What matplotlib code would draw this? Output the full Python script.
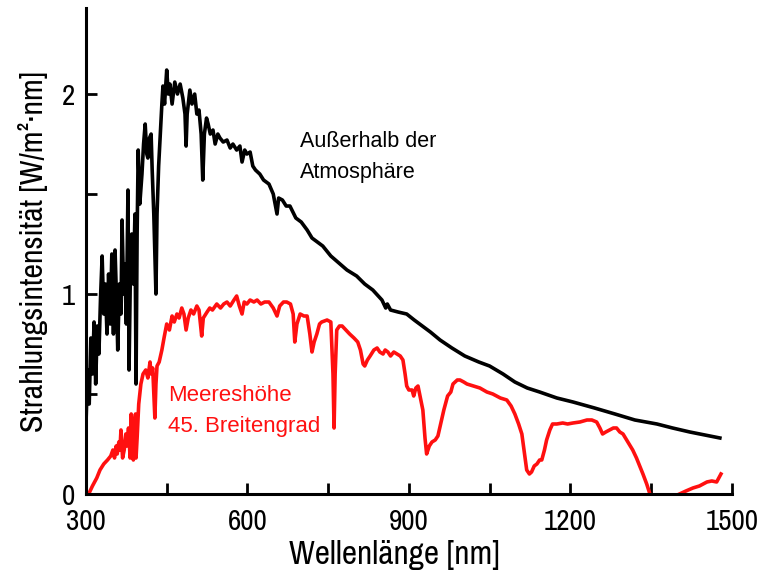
import numpy as np
import matplotlib
matplotlib.use("Agg")
import matplotlib.pyplot as plt
from matplotlib.ticker import MultipleLocator

# extraterrestrial spectrum (nm, W/m^2/nm)
wl_space = [300, 303, 306, 309, 312, 315, 318, 321, 324, 327, 330, 333, 336, 339, 342,
            345, 348, 351, 354, 357, 359, 362, 365, 367, 370, 372, 375, 378, 380, 383,
            385, 388, 391, 393, 395, 397, 400, 404, 407, 410, 413, 415, 418, 421, 423,
            426, 428, 430, 432, 435, 438, 441, 443, 446, 450, 453, 456, 460, 465, 470,
            475, 480, 484, 486, 488, 493, 497, 502, 506, 510, 514, 517, 520, 524, 527,
            531, 536, 540, 545, 549, 555, 562, 568, 573, 580, 586, 590, 595, 599, 605,
            610, 615, 623, 630, 640, 648, 655, 658, 665, 672, 679, 690, 700, 711, 720,
            730, 740, 755, 772, 785, 803, 818, 833, 850, 857, 860, 866, 880, 896, 910,
            920, 940, 958, 980, 1004, 1030, 1050, 1075, 1097, 1120, 1143, 1175, 1205,
            1245, 1283, 1320, 1361, 1390, 1422, 1450, 1478]
irr_space = [0.35, 0.62, 0.45, 0.78, 0.60, 0.86, 0.55, 0.84, 0.70, 0.98, 1.19, 0.90, 1.05,
             0.80, 1.10, 0.85, 1.20, 0.80, 1.22, 0.95, 0.72, 1.05, 0.90, 1.37, 1.00, 1.15,
             0.85, 1.52, 0.62, 1.20, 1.30, 1.05, 1.40, 0.55, 1.30, 1.72, 1.45, 1.60, 1.75,
             1.85, 1.70, 1.68, 1.78, 1.80, 1.62, 1.40, 1.20, 1.00, 1.40, 1.64, 1.80, 1.95,
             2.04, 1.95, 2.12, 2.00, 2.05, 1.95, 2.06, 2.00, 2.05, 1.98, 1.90, 1.74, 1.90,
             2.02, 1.95, 2.00, 1.90, 1.92, 1.80, 1.57, 1.80, 1.88, 1.85, 1.80, 1.82, 1.75,
             1.80, 1.78, 1.76, 1.77, 1.73, 1.75, 1.72, 1.74, 1.66, 1.72, 1.70, 1.71, 1.64,
             1.62, 1.60, 1.57, 1.55, 1.50, 1.40, 1.48, 1.47, 1.44, 1.44, 1.38, 1.36, 1.32,
             1.28, 1.26, 1.24, 1.19, 1.15, 1.12, 1.09, 1.05, 1.02, 0.97, 0.93, 0.95, 0.92,
             0.91, 0.90, 0.87, 0.85, 0.81, 0.77, 0.73, 0.69, 0.66, 0.64, 0.60, 0.56, 0.53,
             0.51, 0.48, 0.46, 0.43, 0.40, 0.37, 0.35, 0.33, 0.31, 0.295, 0.28]

# sea level, 45th parallel (nan = fully absorbed band)
wl_sea = [305, 312, 320, 326, 333, 340, 346, 350, 353, 356, 358, 361, 363, 365, 368, 371,
          374, 376, 379, 382, 384, 386, 388, 390, 392, 393, 395, 398, 402, 406, 411, 415,
          419, 421, 424, 428, 430, 432, 436, 441, 445, 450, 455, 460, 464, 469, 473, 478,
          482, 486, 490, 495, 500, 506, 510, 515, 518, 525, 530, 535, 543, 550, 556, 562,
          568, 575, 580, 585, 590, 594, 599, 605, 612, 618, 625, 632, 640, 648, 655, 660,
          667, 673, 680, 685, 688, 692, 698, 705, 711, 716, 720, 724, 729, 734, 738, 748,
          755, 759, 761, 763, 766, 771, 776, 783, 790, 798, 805, 810, 815, 818, 823, 828,
          835, 841, 846, 852, 856, 861, 866, 872, 878, 884, 889, 893, 896, 900, 906, 909,
          913, 917, 920, 926, 930, 933, 938, 943, 949, 954, 960, 965, 972, 978, 982, 990,
          995, 1002, 1008, 1020, 1032, 1045, 1056, 1070, 1082, 1090, 1097, 1104, 1110,
          1115, 1119, 1124, 1128, 1133, 1138, 1143, 1147, 1152, 1156, 1162, 1167, 1175,
          1186, 1195, 1205, 1218, 1231, 1240, 1249, 1255, 1260, 1266, 1273, 1280, 1286,
          1292, 1298, 1307, 1316, 1323, 1329, 1335, 1342, 1348, 1375, 1403, 1415, 1428,
          1440, 1454, 1463, 1472, 1476, 1480]
irr_sea = [0.0, 0.04, 0.08, 0.12, 0.15, 0.17, 0.19, 0.22, 0.18, 0.24, 0.20, 0.26, 0.22,
           0.32, 0.18, 0.22, 0.30, 0.24, 0.33, 0.18, 0.40, 0.20, 0.17, 0.35, 0.40, 0.18,
           0.28, 0.45, 0.55, 0.60, 0.62, 0.58, 0.66, 0.60, 0.63, 0.38, 0.55, 0.64, 0.66,
           0.72, 0.78, 0.85, 0.82, 0.89, 0.86, 0.90, 0.88, 0.93, 0.90, 0.82, 0.88, 0.92,
           0.90, 0.94, 0.92, 0.79, 0.88, 0.91, 0.93, 0.92, 0.95, 0.93, 0.95, 0.96, 0.94,
           0.97, 0.99, 0.94, 0.90, 0.96, 0.95, 0.97, 0.96, 0.97, 0.95, 0.96, 0.96, 0.93,
           0.89, 0.94, 0.96, 0.96, 0.95, 0.90, 0.76, 0.85, 0.90, 0.89, 0.89, 0.80, 0.71,
           0.76, 0.80, 0.85, 0.86, 0.87, 0.86, 0.60, 0.33, 0.60, 0.82, 0.84, 0.84, 0.82,
           0.80, 0.78, 0.76, 0.72, 0.65, 0.64, 0.67, 0.69, 0.72, 0.73, 0.71, 0.70, 0.72,
           0.71, 0.69, 0.71, 0.70, 0.69, 0.67, 0.60, 0.54, 0.52, 0.52, 0.49, 0.53, 0.54,
           0.50, 0.42, 0.28, 0.20, 0.24, 0.26, 0.27, 0.29, 0.36, 0.42, 0.49, 0.51, 0.55,
           0.57, 0.57, 0.56, 0.55, 0.54, 0.53, 0.51, 0.50, 0.48, 0.47, 0.44, 0.40, 0.35,
           0.30, 0.20, 0.12, 0.10, 0.11, 0.14, 0.15, 0.17, 0.17, 0.22, 0.27, 0.32, 0.35,
           0.35, 0.355, 0.35, 0.355, 0.36, 0.37, 0.37, 0.36, 0.33, 0.30, 0.31, 0.32, 0.33,
           0.33, 0.31, 0.30, 0.26, 0.22, 0.18, 0.14, 0.10, 0.05, 0.0, np.nan, 0.0, 0.015,
           0.03, 0.04, 0.06, 0.065, 0.06, 0.08, 0.10]

x_ticks = [300, 600, 900, 1200, 1500]
y_ticks = [0, 1, 2]

narrow = ['Liberation Sans Narrow', 'Archivo Narrow', 'Roboto Condensed',
          'PT Sans Narrow', 'Liberation Sans', 'DejaVu Sans']
plain = ['Liberation Sans', 'DejaVu Sans']

fig = plt.figure(figsize=(7.57, 5.76), dpi=100)
ax = fig.add_axes([0.1136, 0.1424, 0.853, 0.8436])

ax.plot(wl_space, irr_space, color='black', lw=2.6, solid_joinstyle='round')
ax.plot(wl_sea, irr_sea, color='#ff1010', lw=2.6, solid_joinstyle='round')

ax.set_xlim(300, 1500)
ax.set_ylim(0, 2.43)
ax.set_xticks(x_ticks)
ax.set_yticks(y_ticks)
ax.xaxis.set_minor_locator(MultipleLocator(150))
ax.yaxis.set_minor_locator(MultipleLocator(0.5))

for side in ['top', 'right']:
    ax.spines[side].set_visible(False)
for side in ['left', 'bottom']:
    ax.spines[side].set_linewidth(2.2)

ax.tick_params(which='both', direction='in', length=8, width=2)
ax.tick_params(axis='x', which='major', pad=10)
ax.tick_params(axis='y', which='major', pad=8)
for lab in ax.get_xticklabels() + ax.get_yticklabels():
    lab.set_family(narrow)
    lab.set_fontsize(21)

ax.set_xlabel('Wellenlänge [nm]', family=narrow, fontsize=24)
ax.xaxis.set_label_coords(0.478, -0.095)
ax.set_ylabel('Strahlungsintensität [W/m²·nm]', family=narrow, fontsize=23, labelpad=10)

ax.text(697, 1.685, 'Außerhalb der\nAtmosphäre', family=plain, fontsize=15.5,
        ha='left', va='center', linespacing=1.65)
ax.text(452, 0.415, 'Meereshöhe\n45. Breitengrad', family=plain, fontsize=16,
        color='#ff1010', ha='left', va='center', linespacing=1.6)

fig.savefig('out.png', dpi=100)
